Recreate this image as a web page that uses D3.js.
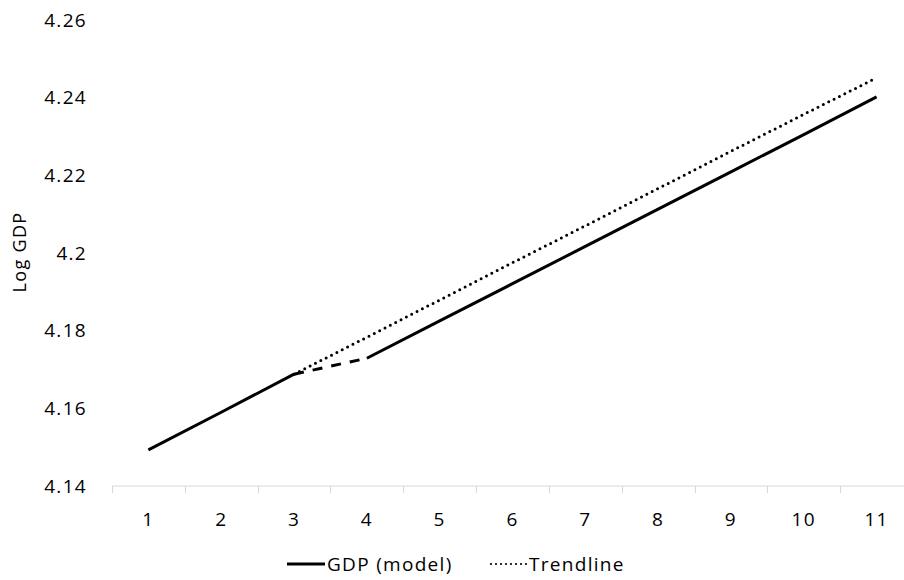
<!DOCTYPE html>
<html>
<head>
<meta charset="utf-8">
<script src="https://cdn.jsdelivr.net/npm/d3@7"></script>
<style>
  body { margin: 0; background: #fff; }
  svg text { font-family: "Open Sans", "Noto Sans", sans-serif; fill: #000; font-size: 19px; letter-spacing: 1.3px; }
</style>
</head>
<body>
<svg id="chart" width="904" height="580"></svg>
<script>
// categories on the x axis
const periods = [1, 2, 3, 4, 5, 6, 7, 8, 9, 10, 11];
// model GDP (log)
const gdpModel = [4.1493, 4.1590, 4.1688, 4.1729, 4.1825, 4.1921, 4.2017, 4.2113, 4.2209, 4.2305, 4.2402];
// trendline, starting from period 3
const trendline = [null, null, 4.1688, 4.1783, 4.1879, 4.1975, 4.2070, 4.2166, 4.2262, 4.2357, 4.2451];
const yTicks = [4.14, 4.16, 4.18, 4.2, 4.22, 4.24, 4.26];

const svg = d3.select('#chart');
const plot = { left: 112, right: 913, top: 20, bottom: 486 };

const xBand = d3.scaleBand().domain(periods).range([plot.left, plot.right]).padding(0);
const x = d => xBand(d) + xBand.bandwidth() / 2;
const y = d3.scaleLinear().domain([4.14, 4.26]).range([plot.bottom, plot.top]);

// y tick labels (no axis line, no gridlines)
svg.append('g')
    .selectAll('text')
    .data(yTicks)
    .join('text')
    .attr('x', 87)
    .attr('y', d => y(d))
    .attr('dy', '0.35em')
    .attr('text-anchor', 'end')
    .text(d => d3.format('')(d));

svg.append('text')
    .attr('transform', 'translate(20,252) rotate(-90)')
    .attr('text-anchor', 'middle')
    .attr('dy', '0.35em')
    .style('font-size', '18px')
    .text('Log GDP');

// x axis: line with tick marks at category boundaries
const xAxis = svg.append('g');
xAxis.append('line')
    .attr('x1', plot.left).attr('x2', plot.right)
    .attr('y1', plot.bottom).attr('y2', plot.bottom)
    .attr('stroke', '#d9d9d9').attr('stroke-width', 1);

const edges = periods.map(p => xBand(p)).concat([plot.right]);
xAxis.selectAll('.tick')
    .data(edges)
    .join('line')
    .attr('class', 'tick')
    .attr('x1', d => Math.round(d) + 0.5).attr('x2', d => Math.round(d) + 0.5)
    .attr('y1', plot.bottom).attr('y2', plot.bottom + 7)
    .attr('stroke', '#d9d9d9');

xAxis.selectAll('.lbl')
    .data(periods)
    .join('text')
    .attr('class', 'lbl')
    .attr('x', d => x(d))
    .attr('y', 519)
    .attr('dy', '0.35em')
    .attr('text-anchor', 'middle')
    .text(d => d);

const line = d3.line()
    .defined(d => d.v != null)
    .x(d => x(d.p))
    .y(d => y(d.v));

const gdpPts = periods.map((p, i) => ({ p, v: gdpModel[i] }));
const trendPts = periods.map((p, i) => ({ p, v: trendline[i] }));

// trendline (dotted)
svg.append('path')
    .attr('d', line(trendPts))
    .attr('fill', 'none')
    .attr('stroke', '#000')
    .attr('stroke-width', 3)
    .attr('stroke-dasharray', '0,6')
    .attr('stroke-linecap', 'round');

// GDP model: solid except the dashed segment from period 3 to 4
svg.append('path')
    .attr('d', line(gdpPts.slice(0, 3)))
    .attr('fill', 'none').attr('stroke', '#000').attr('stroke-width', 3);
svg.append('path')
    .attr('d', line(gdpPts.slice(2, 4)))
    .attr('fill', 'none').attr('stroke', '#000').attr('stroke-width', 3)
    .attr('stroke-dasharray', '10,9');
svg.append('path')
    .attr('d', line(gdpPts.slice(3)))
    .attr('fill', 'none').attr('stroke', '#000').attr('stroke-width', 3);

// legend
const legend = svg.append('g').attr('transform', 'translate(0,564)');
legend.append('line')
    .attr('x1', 287).attr('x2', 325).attr('y1', 0).attr('y2', 0)
    .attr('stroke', '#000').attr('stroke-width', 3);
legend.append('text')
    .attr('x', 327).attr('y', 0).attr('dy', '0.35em')
    .text('GDP (model)');
legend.append('line')
    .attr('x1', 491).attr('x2', 527).attr('y1', 0).attr('y2', 0)
    .attr('stroke', '#000').attr('stroke-width', 2.2)
    .attr('stroke-dasharray', '0,5').attr('stroke-linecap', 'round');
legend.append('text')
    .attr('x', 529).attr('y', 0).attr('dy', '0.35em')
    .text('Trendline');
</script>
</body>
</html>
